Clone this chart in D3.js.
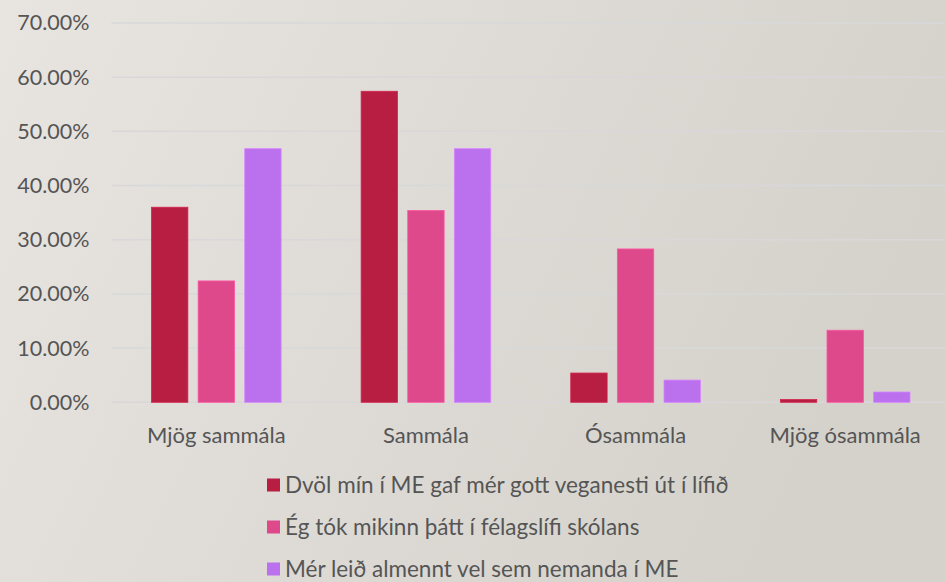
<!DOCTYPE html>
<html>
<head>
<meta charset="utf-8">
<script src="https://cdn.jsdelivr.net/npm/d3@7"></script>
<style>
  html, body { margin: 0; padding: 0; }
  body { width: 945px; height: 582px; overflow: hidden; }
  text { font-family: Lato, "Open Sans", sans-serif; fill: #555555; }
</style>
</head>
<body>
<div id="chart"></div>
<script>
// survey answers (share of respondents)
var categories = ["Mjög sammála", "Sammála", "Ósammála", "Mjög ósammála"];
var seriesNames = [
  "Dvöl mín í ME gaf mér gott veganesti út í lífið",
  "Ég tók mikinn þátt í félagslífi skólans",
  "Mér leið almennt vel sem nemanda í ME"
];
var vegnesti = [0.360, 0.574, 0.054, 0.005];
var felagslif = [0.224, 0.354, 0.283, 0.133];
var lidanAlmennt = [0.468, 0.468, 0.041, 0.019];
var yTicks = [0, 0.1, 0.2, 0.3, 0.4, 0.5, 0.6, 0.7];
var colors = ["#b81e42", "#de498c", "#bb71ee"];

var width = 945, height = 582;
var margin = {top: 23, right: -5, bottom: 180, left: 111.5};

var svg = d3.select("#chart").append("svg")
    .attr("width", width)
    .attr("height", height);

// slide background
var defs = svg.append("defs");
var grad = defs.append("linearGradient")
    .attr("id", "bg")
    .attr("x1", "0%").attr("y1", "0%")
    .attr("x2", "100%").attr("y2", "30%");
grad.append("stop").attr("offset", "0%").attr("stop-color", "#e8e5e1");
grad.append("stop").attr("offset", "100%").attr("stop-color", "#d5d2cc");
svg.append("rect")
    .attr("width", width)
    .attr("height", height)
    .attr("fill", "url(#bg)");

var g = svg.append("g")
    .attr("transform", "translate(" + margin.left + "," + margin.top + ")");

var plotW = width - margin.left - margin.right,
    plotH = 402.3 - margin.top;

var x0 = d3.scaleBand().domain(categories).range([0, plotW]).paddingInner(0).paddingOuter(0);
var x1 = d3.scaleBand().domain([0, 1, 2]).range([40, x0.bandwidth() - 40]).paddingInner(0.22);
var y = d3.scaleLinear().domain([0, 0.7]).range([plotH, 0]);

// gridlines
g.append("g")
    .selectAll("line")
    .data(yTicks)
    .enter()
    .append("line")
    .attr("x1", 0)
    .attr("x2", plotW)
    .attr("y1", function(d) { return y(d); })
    .attr("y2", function(d) { return y(d); })
    .attr("stroke", "#d8d8da")
    .attr("stroke-width", 1.5);

// y axis labels
var yAxis = g.append("g")
    .call(d3.axisLeft(y).tickValues(yTicks).tickSize(0).tickPadding(22)
      .tickFormat(function(d) { return (d * 100).toFixed(2) + "%"; }));
yAxis.select(".domain").remove();
yAxis.selectAll("text")
    .attr("font-size", "21.5px")
    .attr("font-family", "Lato, sans-serif")
    .style("fill", "#555555");

// bars
var table = categories.map(function(c, i) {
  return {cat: c, vals: [vegnesti[i], felagslif[i], lidanAlmennt[i]]};
});

var groups = g.selectAll(".grp")
    .data(table)
    .enter()
    .append("g")
    .attr("class", "grp")
    .attr("transform", function(d) { return "translate(" + x0(d.cat) + ",0)"; });

groups.selectAll("rect")
    .data(function(d) { return d.vals.map(function(v, k) { return {k: k, v: v}; }); })
    .enter()
    .append("rect")
    .attr("x", function(d) { return x1(d.k); })
    .attr("width", x1.bandwidth())
    .attr("y", function(d) { return y(d.v); })
    .attr("height", function(d) { return plotH - y(d.v); })
    .attr("fill", function(d) { return colors[d.k]; })
    .attr("stroke", function(d) { return d3.color(colors[d.k]).brighter(0.4); })
    .attr("stroke-width", 0.8);

// x axis labels
var xAxis = g.append("g")
    .attr("transform", "translate(0," + plotH + ")")
    .call(d3.axisBottom(x0).tickSize(0).tickPadding(25));
xAxis.select(".domain").remove();
xAxis.selectAll("text")
    .attr("font-size", "22px")
    .attr("font-family", "Lato, sans-serif")
    .style("fill", "#555555");

// legend
var legend = svg.append("g")
    .attr("transform", "translate(267,0)");

var rows = legend.selectAll("g")
    .data(seriesNames)
    .enter()
    .append("g")
    .attr("transform", function(d, i) { return "translate(0," + (485 + i * 42) + ")"; });

rows.append("rect")
    .attr("x", 0)
    .attr("y", -6.5)
    .attr("width", 13)
    .attr("height", 13)
    .attr("fill", function(d, i) { return colors[i]; });

rows.append("text")
    .attr("x", 18)
    .attr("dy", "0.36em")
    .attr("font-size", "22.5px")
    .text(function(d) { return d; });
</script>
</body>
</html>
